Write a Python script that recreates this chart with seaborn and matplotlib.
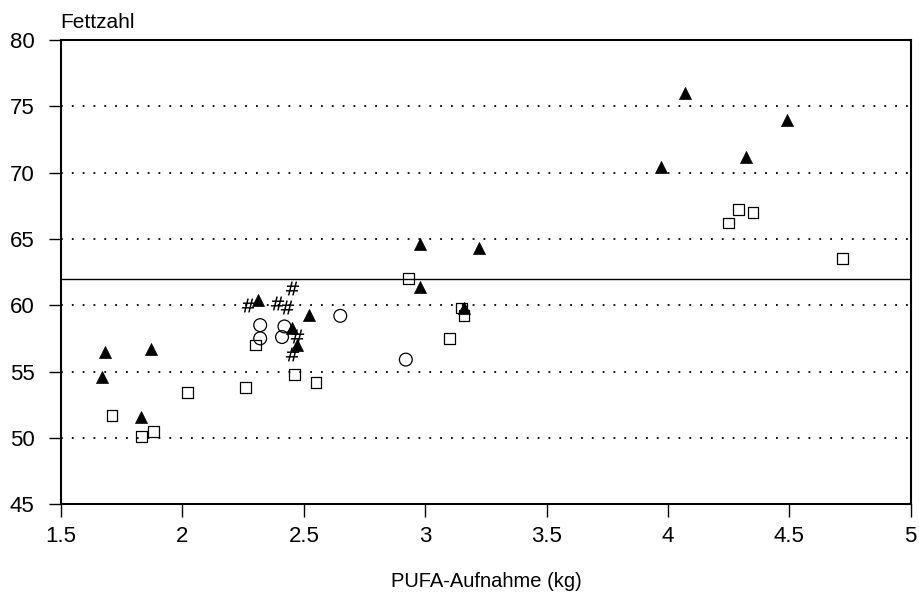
import matplotlib
matplotlib.use("Agg")
import matplotlib.pyplot as plt
import pandas as pd
import seaborn as sns

# Data (PUFA intake vs. Fettzahl)
tri_x = [1.68, 1.67, 1.87, 1.83, 2.31, 2.52, 2.45, 2.47,
         2.98, 3.22, 2.98, 3.16, 4.07, 4.49, 4.32, 3.97]
tri_y = [56.5, 54.6, 56.7, 51.6, 60.4, 59.3, 58.3, 57.0,
         64.6, 64.3, 61.4, 59.8, 76.0, 74.0, 71.2, 70.4]

sq_x = [4.29, 4.35, 4.25, 4.72, 2.93, 3.16, 3.15, 3.10,
        2.30, 2.46, 2.55, 2.26, 2.02, 1.71, 1.88, 1.83]
sq_y = [67.2, 67.0, 66.2, 63.5, 62.0, 59.2, 59.8, 57.5,
        57.0, 54.8, 54.2, 53.8, 53.4, 51.7, 50.5, 50.1]

circ_x = [2.32, 2.32, 2.42, 2.41, 2.65, 2.92]
circ_y = [58.5, 57.5, 58.4, 57.6, 59.2, 55.9]

hash_x = [2.45, 2.27, 2.39, 2.43, 2.47, 2.45]
hash_y = [61.3, 60.0, 60.2, 59.9, 57.7, 56.3]

ref_line = 62
y_ticks = [45, 50, 55, 60, 65, 70, 75, 80]
x_ticks = [1.5, 2, 2.5, 3, 3.5, 4, 4.5, 5]
x_labels = ["1.5", "2", "2.5", "3", "3.5", "4", "4.5", "5"]

sns.set_theme(style="ticks")
plt.rcParams["font.family"] = ["Liberation Sans", "DejaVu Sans"]

fig = plt.figure(figsize=(9.19, 5.98), dpi=100)
ax = fig.add_axes([0.0665, 0.157, 0.9245, 0.776])

# dotted horizontal grid
for yv in y_ticks[1:-1]:
    ax.axhline(yv, color="black", linestyle=(0, (1, 5)), linewidth=1.3, zorder=1)
ax.axhline(ref_line, color="black", linewidth=1.0, zorder=1)

sns.scatterplot(x=sq_x, y=sq_y, marker="s", s=60, facecolors="none",
                edgecolor="black", linewidth=0.9, ax=ax, zorder=3)
sns.scatterplot(x=circ_x, y=circ_y, marker="o", s=85, facecolors="none",
                edgecolor="black", linewidth=0.9, ax=ax, zorder=3)
sns.scatterplot(x=hash_x, y=hash_y, marker=r"$\#$", s=100, color="black",
                edgecolor="black", linewidth=0.0, ax=ax, zorder=4)
sns.scatterplot(x=tri_x, y=tri_y, marker="^", s=75, color="black",
                edgecolor="black", linewidth=0.5, ax=ax, zorder=5)

ax.set_xlim(1.5, 5)
ax.set_ylim(45, 80)
ax.set_xticks(x_ticks)
ax.set_xticklabels(x_labels)
ax.set_yticks(y_ticks)
ax.tick_params(axis="both", direction="out", length=9, width=1.0,
               color="black", labelsize=16, labelcolor="black", pad=7)
ax.tick_params(axis="y", pad=10)

for side in ["left", "right", "top", "bottom"]:
    ax.spines[side].set_visible(True)
    ax.spines[side].set_color("black")
    ax.spines[side].set_linewidth(1.5)

ax.set_xlabel("PUFA-Aufnahme (kg)", fontsize=14.5, labelpad=18, color="black")
ax.set_ylabel("")
fig.text(60 / 919, 1 - 22 / 598, "Fettzahl", fontsize=15, ha="left",
         va="center", color="black")

fig.savefig("out.png", dpi=100)
